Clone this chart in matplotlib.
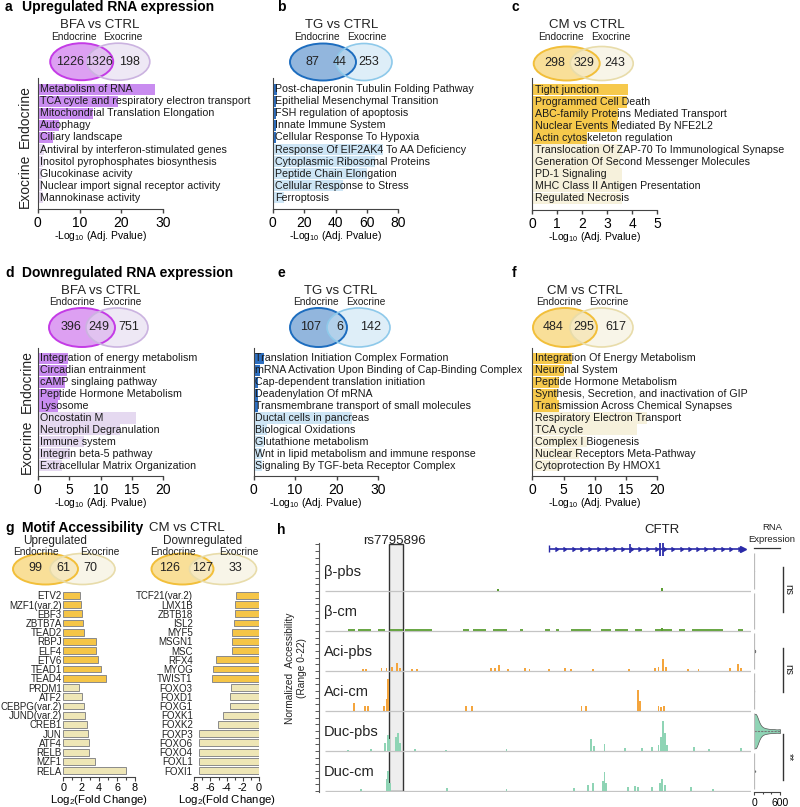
import matplotlib
matplotlib.use("Agg")
import matplotlib.pyplot as plt
from matplotlib.patches import Ellipse, Rectangle
import numpy as np

plt.rcParams['font.family'] = ['Liberation Sans', 'DejaVu Sans']
plt.rcParams['mathtext.fontset'] = 'custom'
plt.rcParams['mathtext.rm'] = 'Liberation Sans'
plt.rcParams['mathtext.it'] = 'Liberation Sans:italic'
plt.rcParams['mathtext.bf'] = 'Liberation Sans:bold'
plt.rcParams['axes.unicode_minus'] = False

# ---------------- datos ----------------
# Venn: endocrino, interseccion, exocrino
venn_a = [1226, 1326, 198]
venn_b = [87, 44, 253]
venn_c = [298, 329, 243]
venn_d = [396, 249, 751]
venn_e = [107, 6, 142]
venn_f = [484, 295, 617]
venn_g_up = [99, 61, 70]
venn_g_down = [126, 127, 33]

terms_a = ["Metabolism of RNA", "TCA cycle and respiratory electron transport",
           "Mitochondrial Translation Elongation", "Autophagy", "Ciliary landscape",
           "Antiviral by interferon-stimulated genes", "Inositol pyrophosphates biosynthesis",
           "Glucokinase acivity", "Nuclear import signal receptor activity", "Mannokinase activity"]
pval_a = [28.1, 19.2, 13.2, 5.1, 3.6, 1.5, 1.2, 1.0, 1.0, 1.3]

terms_b = ["Post-chaperonin Tubulin Folding Pathway", "Epithelial Mesenchymal Transition",
           "FSH regulation of apoptosis", "Innate Immune System", "Cellular Response To Hypoxia",
           "Response Of EIF2AK4 To AA Deficiency", "Cytoplasmic Ribosomal Proteins",
           "Peptide Chain Elongation", "Cellular Response to Stress", "Ferroptosis"]
pval_b = [2.6, 2.2, 2.0, 2.0, 1.8, 70.5, 65, 60, 45, 7]

terms_c = ["Tight junction", "Programmed Cell Death", "ABC-family Proteins Mediated Transport",
           "Nuclear Events Mediated By NFE2L2", "Actin cytoskeleton regulation",
           "Translocation Of ZAP-70 To Immunological Synapse",
           "Generation Of Second Messenger Molecules", "PD-1 Signaling",
           "MHC Class II Antigen Presentation", "Regulated Necrosis"]
pval_c = [3.84, 3.8, 3.43, 3.37, 2.17, 3.6, 3.5, 3.6, 3.6, 3.6]

terms_d = ["Integration of energy metabolism", "Circadian entrainment", "cAMP singlaing pathway",
           "Peptide Hormone Metabolism", "Lysosome", "Oncostatin M", "Neutrophil Degranulation",
           "Immune system", "Integrin beta-5 pathway", "Extracellular Matrix Organization"]
pval_d = [4.9, 4.6, 4.3, 3.6, 3.3, 15.6, 13.1, 7.3, 5.1, 3.8]

terms_e = ["Translation Initiation Complex Formation",
           "mRNA Activation Upon Binding of Cap-Binding Complex",
           "Cap-dependent translation initiation", "Deadenylation Of mRNA",
           "Transmembrane transport of small molecules", "Ductal cells in pancreas",
           "Biological Oxidations", "Glutathione metabolism",
           "Wnt in lipid metabolism and immune response", "Signaling By TGF-beta Receptor Complex"]
pval_e = [2.5, 1.6, 1.0, 1.0, 1.0, 23.7, 3.2, 2.5, 2.0, 2.0]

terms_f = ["Integration Of Energy Metabolism", "Neuronal System", "Peptide Hormone Metabolism",
           "Synthesis, Secretion, and inactivation of GIP", "Transmission Across Chemical Synapses",
           "Respiratory Electron Transport", "TCA cycle", "Complex I Biogenesis",
           "Nuclear Receptors Meta-Pathway", "Cytoprotection By HMOX1"]
pval_f = [6.3, 5.0, 4.2, 3.9, 4.2, 18.3, 16.7, 8.7, 7.4, 4.4]

up_genes = ['ETV2', 'MZF1(var.2)', 'EBF3', 'ZBTB7A', 'TEAD2', 'RBPJ', 'ELF4', 'ETV6', 'TEAD1',
            'TEAD4', 'PRDM1', 'ATF2', 'CEBPG(var.2)', 'JUND(var.2)', 'CREB1', 'JUN', 'ATF4',
            'RELB', 'MZF1', 'RELA']
up_fc = [1.86, 1.93, 2.05, 2.15, 2.34, 3.6, 3.64, 3.83, 4.16, 4.72,
         1.78, 2.05, 2.34, 2.45, 2.68, 2.71, 2.9, 2.9, 3.5, 7.0]
down_genes = ['TCF21(var.2)', 'LMX1B', 'ZBTB18', 'ISL2', 'MYF5', 'MSGN1', 'MSC', 'RFX4', 'MYOG',
              'TWIST1', 'FOXO3', 'FOXD1', 'FOXG1', 'FOXK1', 'FOXK2', 'FOXP3', 'FOXO6', 'FOXO4',
              'FOXL1', 'FOXI1']
down_fc = [-2.84, -2.92, -2.96, -3.08, -3.32, -3.32, -3.4, -5.32, -5.72, -5.8,
           -3.52, -3.56, -3.6, -4.4, -5.08, -7.48, -7.48, -7.48, -7.48, -7.48]

# pistas de accesibilidad (posicion en kb, altura 0-22)
pistas = ['β-pbs', 'β-cm', 'Aci-pbs', 'Aci-cm', 'Duc-pbs', 'Duc-cm']
b_pbs_pos = [173, 337]
b_pbs_h = [1.1, 1.4]
b_cm_pos = [337]
b_cm_h = [1.4]
b_cm_tramos = [(22.7, 29.5), (33, 46), (53, 60), (65, 78.4), (80, 107), (137.6, 144),
               (147.7, 161), (168, 181.5), (195, 198.4), (220, 225), (230.5, 234),
               (245.7, 266), (276, 286), (289.6, 303), (310, 316.6), (330, 347),
               (353.5, 360), (367, 398), (413, 418)]
aci_pbs_pos = [38, 41, 56.5, 61.5, 66.6, 71.7, 75, 87, 92, 166, 169.7, 174, 183, 200, 204.5,
               223.7, 239.6, 245.7, 267.6, 303.8, 330, 333.5, 338, 341, 363, 373.4, 405, 413, 416]
aci_pbs_h = [1.1, 1.1, 1.7, 1.7, 2.2, 4.4, 1.7, 1.1, 1.1, 1.7, 1.7, 3.3, 1.1, 1.7, 1.1,
             1.1, 1.7, 1.1, 1.1, 1.1, 1.7, 2.2, 6.6, 2.2, 1.1, 1.1, 1.7, 3.9, 1.7]
aci_cm_pos = [28.8, 39.6, 43, 59, 61.5, 63.2, 141, 147, 256.5, 261, 313, 315, 333.5, 336, 338.6]
aci_cm_h = [4.4, 2.7, 2.7, 2.7, 6.6, 17.6, 2.7, 2.7, 2.7, 2.7, 11.5, 5.5, 2.7, 2.2, 2.7]
duc_pbs_pos = [22.7, 46, 60, 62.6, 64, 70.7, 72.7, 75, 90, 120.7, 181.5, 266, 269, 279.5, 300,
               316.6, 326.7, 333.5, 336, 338, 339.6, 342, 369, 384, 416]
duc_pbs_h = [0.8, 1.1, 4.4, 8.8, 6.6, 7.7, 9.9, 4.4, 1.1, 0.8, 1.1, 6.6, 2.7, 3.9, 1.7,
             1.7, 2.2, 3.3, 7.7, 16.5, 9.9, 3.3, 2.2, 1.1, 1.7]
duc_cm_pos = [36, 61.5, 63.2, 65, 122, 181.5, 249, 262.6, 267.6, 277.8, 279.5, 281, 303, 310,
              313, 327, 335, 337, 340, 366, 388]
duc_cm_h = [1.1, 6.6, 11, 4.4, 1.7, 1.1, 1.7, 3.3, 4.4, 5.5, 10.5, 4.4, 2.2, 2.7, 2.2,
            2.2, 4.4, 6.6, 3.3, 2.2, 1.1]
snp_kb = (64.3, 78.3)
gen_kb = (224, 418)
exones_kb = [224, 305, 335, 337.7]

# expresion de ARN por grupo (para los violines)
rna = [[0, 1, 2, 3, 5], [0, 1, 2, 4], [0, 5, 10, 15, 20, 30], [0, 2, 4, 6],
       [0, 2, 5, 8, 12, 18, 25, 35, 50, 70, 100, 150, 220, 320, 450, 600], [0, 5, 10, 20, 30]]
signif = ['ns', 'ns', '**']

# ---------------- figura ----------------
W, H = 800, 807
fig = plt.figure(figsize=(8, 8.07), dpi=100)


def caja(x0, y0, x1, y1):
    ax = fig.add_axes([x0 / W, 1 - y1 / H, (x1 - x0) / W, (y1 - y0) / H])
    ax.patch.set_alpha(0)
    return ax


ov = caja(0, 0, W, H)
ov.set_xlim(0, W)
ov.set_ylim(H, 0)
ov.axis('off')

morado = ('#d88ff0', '#c43be6', '#e4d9ef', '#cbb3e0', '#c98cf0', '#e5d9f0')
azul = ('#7fa9d8', '#1d6dbf', '#c8e3f4', '#8ec9ea', '#2e6fc0', '#cde5f5')
amarillo = ('#f8da86', '#f2bf3a', '#f4efda', '#e8dcaa', '#f6c94c', '#f6f1dc')


def venn(cl, cr, cy, wl, wr, h, col, nums, nx, ny, fs=9):
    ov.add_patch(Ellipse((cl, cy), wl, h, facecolor=col[0], alpha=0.85, edgecolor='none'))
    ov.add_patch(Ellipse((cr, cy), wr, h, facecolor=col[2], alpha=0.6, edgecolor='none'))
    ov.add_patch(Ellipse((cl, cy), wl, h, facecolor='none', edgecolor=col[1], lw=1.4))
    ov.add_patch(Ellipse((cr, cy), wr, h, facecolor='none', edgecolor=col[3], lw=1.2))
    for x, n in zip(nx, nums):
        ov.text(x, ny, str(n), ha='center', va='center', fontsize=fs, color='#222')


def cabecera(tit, tx, ty, ex, xx, ly):
    ov.text(tx, ty, tit, ha='center', va='center', fontsize=9.5, color='#222')
    ov.text(ex, ly, 'Endocrine', ha='center', va='center', fontsize=7.3, color='#222')
    ov.text(xx, ly, 'Exocrine', ha='center', va='center', fontsize=7.3, color='#222')


def enriquecimiento(pos, terms, vals, col, xmax, step, pad, txt=0.022):
    ax = caja(*pos)
    y = np.arange(len(terms))
    colores = [col[4]] * 5 + [col[5]] * 5
    ax.barh(y, vals, height=0.94, color=colores, zorder=1)
    for yi, t in zip(y, terms):
        ax.text(txt, yi, t, transform=ax.get_yaxis_transform(), va='center', ha='left',
                fontsize=7.7, color='#1a1a1a', zorder=3)
    ax.set_xlim(0, xmax)
    ax.set_ylim(len(terms) - 0.5 + pad, -0.5 - pad)
    ax.set_xticks(np.arange(0, xmax + step / 2, step))
    ax.set_yticks([])
    for s in ['top', 'right']:
        ax.spines[s].set_visible(False)
    for s in ['left', 'bottom']:
        ax.spines[s].set_color('#444')
    ax.tick_params(axis='x', length=3, width=1, labelsize=10, pad=2, color='#444')
    ax.set_xlabel(r'-Log$_{10}$ (Adj. Pvalue)', fontsize=7.5, labelpad=-1)
    return ax


# titulos de paneles
ov.text(5, 7, 'a', fontsize=10, fontweight='bold', va='center')
ov.text(22, 7, 'Upregulated RNA expression', fontsize=10, fontweight='bold', va='center')
ov.text(277, 7, 'b', fontsize=10, fontweight='bold', va='center')
ov.text(512, 7, 'c', fontsize=10, fontweight='bold', va='center')
ov.text(5, 273, 'd', fontsize=10, fontweight='bold', va='center')
ov.text(22, 273, 'Downregulated RNA expression', fontsize=10, fontweight='bold', va='center')
ov.text(277, 273, 'e', fontsize=10, fontweight='bold', va='center')
ov.text(512, 273, 'f', fontsize=10, fontweight='bold', va='center')
ov.text(5, 528, 'g', fontsize=10, fontweight='bold', va='center')
ov.text(22, 528, 'Motif Accessibility', fontsize=10, fontweight='bold', va='center')
ov.text(187, 528, 'CM vs CTRL', fontsize=9.5, ha='center', va='center', color='#222')
ov.text(277, 530, 'h', fontsize=10, fontweight='bold', va='center')

# fila 1
cabecera('BFA vs CTRL', 100, 25, 73.7, 122.5, 36.7)
venn(81.7, 118.3, 61.7, 63, 63, 37, morado, venn_a, [70, 99, 130], 62)
cabecera('TG vs CTRL', 341.7, 25, 317, 366.7, 36.7)
venn(323, 364, 62, 66, 56, 37, azul, venn_b, [312.5, 340, 369], 62)
cabecera('CM vs CTRL', 586.7, 25, 561, 610.5, 36.7)
venn(566.7, 601.7, 63.5, 66, 63, 34, amarillo, venn_c, [554.5, 584.5, 615], 62.7)

enriquecimiento((37.7, 77.7, 163.3, 209.3), terms_a, pval_a, morado, 30, 10, 0.48)
enriquecimiento((272.7, 77.7, 398.3, 209.3), terms_b, pval_b, azul, 80, 20, 0.48)
enriquecimiento((532.3, 78, 657.3, 210), terms_c, pval_c, amarillo, 5, 1, 0.48)
ov.text(25, 116.5, 'Endocrine', rotation=90, fontsize=10, ha='center', va='center', color='#222')
ov.text(25, 181, 'Exocrine', rotation=90, fontsize=10, ha='center', va='center', color='#222')

# fila 2
cabecera('BFA vs CTRL', 100.8, 290.7, 72, 121.7, 302)
venn(82, 117, 327.5, 66, 62, 39, morado, venn_d, [71, 99, 129], 327)
cabecera('TG vs CTRL', 340.8, 290.7, 315.8, 365.8, 302)
venn(318.5, 358.5, 327.5, 57, 63, 39, azul, venn_e, [311, 340, 371], 327)
cabecera('CM vs CTRL', 585, 290.7, 559, 609, 302)
venn(565, 601.5, 327.5, 64, 63, 39, amarillo, venn_f, [553.5, 584, 615.5], 327)

enriquecimiento((37.7, 348, 163.3, 476), terms_d, pval_d, morado, 20, 5, 0.38)
enriquecimiento((253.5, 348, 378, 476), terms_e, pval_e, azul, 30, 10, 0.38, txt=0.015)
enriquecimiento((532.3, 348, 657.3, 476), terms_f, pval_f, amarillo, 20, 5, 0.38)
ov.text(26.7, 382, 'Endocrine', rotation=90, fontsize=10, ha='center', va='center', color='#222')
ov.text(26.7, 447, 'Exocrine', rotation=90, fontsize=10, ha='center', va='center', color='#222')

# panel g
ov.text(55, 541, 'Upregulated', fontsize=8.5, ha='center', va='center', color='#222')
ov.text(203, 541, 'Downregulated', fontsize=8.5, ha='center', va='center', color='#222')
cabecera_g = [(36, 99.7), (173, 239)]
for (ex, xx) in cabecera_g:
    ov.text(ex, 552, 'Endocrine', ha='center', va='center', fontsize=7.3, color='#222')
    ov.text(xx, 552, 'Exocrine', ha='center', va='center', fontsize=7.3, color='#222')
venn(45.5, 82.5, 569, 65, 65, 31, amarillo, venn_g_up, [35, 63, 90], 568)
venn(182.5, 223, 569, 62, 67, 31, amarillo, venn_g_down, [170, 203, 235], 568)


def motivos(pos, genes, fc, xlim, ticks):
    ax = caja(*pos)
    y = np.arange(len(genes))
    colores = ['#f5c547'] * 10 + ['#eee6b6'] * 10
    ax.barh(y, fc, height=0.74, color=colores, edgecolor='#8a8a8a', linewidth=0.7)
    ax.set_ylim(19 + 0.7, -0.79)
    ax.set_xlim(*xlim)
    ax.set_yticks(y)
    ax.set_yticklabels(genes, fontsize=7.0, color='#222')
    ax.tick_params(axis='y', length=0, pad=1.2)
    ax.set_xticks(ticks)
    ax.set_xticks(np.arange(xlim[0], xlim[1] + 0.5, 1), minor=True)
    ax.tick_params(axis='x', length=3, width=0.8, labelsize=7.8, pad=1, color='#444')
    ax.tick_params(axis='x', which='minor', length=2, width=0.8, color='#444')
    for s in ['top', 'right', 'left']:
        ax.spines[s].set_visible(False)
    ax.spines['bottom'].set_color('#444')
    ax.set_xlabel(r'Log$_2$(Fold Change)', fontsize=8.2, labelpad=0)
    return ax


motivos((63.3, 588, 135, 777), up_genes, up_fc, (0, 8), [0, 2, 4, 6, 8])
motivos((194.3, 588, 259, 777), down_genes, down_fc, (-8, 0), [-8, -6, -4, -2, 0])

# panel h: pistas
tr = caja(319, 543, 751, 792)
tr.set_xlim(-6, 426)
tr.set_ylim(-0.5, 136.4)
for s in ['top', 'right', 'bottom']:
    tr.spines[s].set_visible(False)
tr.spines['left'].set_color('#555')
tr.spines['left'].set_linewidth(0.8)
tr.set_xticks([])
tr.set_yticks(np.arange(0, 136, 22 / 6))
tr.set_yticklabels([])
tr.tick_params(axis='y', length=3, width=0.7, color='#555')

tr.add_patch(Rectangle((snp_kb[0], 0.1), snp_kb[1] - snp_kb[0], 135.7,
                       facecolor='#eeeeee', edgecolor='#333', lw=1.0, zorder=1))

datos_pistas = [(b_pbs_pos, b_pbs_h), (b_cm_pos, b_cm_h), (aci_pbs_pos, aci_pbs_h),
                (aci_cm_pos, aci_cm_h), (duc_pbs_pos, duc_pbs_h), (duc_cm_pos, duc_cm_h)]
col_pistas = ['#5b9e33', '#5b9e33', '#f4a53d', '#f4a53d', '#8fd4b5', '#8fd4b5']
for k, (nombre, (p, h)) in enumerate(zip(pistas, datos_pistas)):
    base = (5 - k) * 22
    tr.hlines(base, 0, 426, color='#c4c4c4', lw=0.9, zorder=2)
    tr.bar(p, h, width=1.8, bottom=base, color=col_pistas[k], zorder=3)
    tr.text(-1, base + 10.5, nombre, fontsize=10.5, va='center', ha='left', color='#222', zorder=4)
    if nombre == 'β-cm':
        for a, b in b_cm_tramos:
            tr.hlines(base + 0.3, a, b, color=col_pistas[k], lw=1.3, zorder=3)

# modelo del gen CFTR
yg = 133.2
tr.hlines(yg, gen_kb[0], gen_kb[1], color='#2a2aa8', lw=1.2, zorder=3)
flechas = np.arange(gen_kb[0] + 6, gen_kb[1] - 4, 8.3)
tr.plot(flechas, [yg] * len(flechas), ls='none', marker=9, ms=3.2, color='#2a2aa8', zorder=3)
tr.plot([gen_kb[1]], [yg], ls='none', marker='>', ms=4, color='#2a2aa8', zorder=3)
tr.vlines(exones_kb[0], yg - 2, yg + 2, color='#2a2aa8', lw=1, zorder=3)
tr.vlines(exones_kb[1], yg - 2.5, yg + 2.5, color='#2a2aa8', lw=1.2, zorder=3)
tr.vlines(exones_kb[2:], yg - 4, yg + 4, color='#2a2aa8', lw=1.3, zorder=3)

ov.text(394, 541, 'rs7795896', fontsize=9.5, ha='center', va='center', color='#222')
ov.text(661.7, 530, 'CFTR', fontsize=9.5, ha='center', va='center', color='#222')
ov.text(296, 668, 'Normalized  Accessibility\n(Range 0-22)', rotation=90, fontsize=7.3,
        ha='center', va='center', color='#222', linespacing=1.25)

# violines de expresion
vi = caja(754, 543, 780, 792)
vi.set_xlim(0, 600)
vi.set_ylim(-0.5, 136.4)
centros = [(5 - k) * 22 + 11 for k in range(6)]
anchos = [0.6, 0.6, 1.5, 0.6, 19, 1.2]
partes = vi.violinplot(rna, positions=centros, widths=anchos, orientation='horizontal',
                       showextrema=False, bw_method=0.35)
for k, cuerpo in enumerate(partes['bodies']):
    cuerpo.set_facecolor(col_pistas[k] if k >= 4 else '#888')
    cuerpo.set_edgecolor('#555')
    cuerpo.set_linewidth(0.5)
    cuerpo.set_alpha(1)
vi.hlines(centros[4], 0, max(rna[4]), color='#777', lw=0.8, linestyle=(0, (2, 1)))
for c in centros:
    vi.vlines(0, c - 10, c + 10, color='#bbbbbb', lw=0.9)
for s in ['top', 'right', 'left']:
    vi.spines[s].set_visible(False)
vi.spines['bottom'].set_color('#444')
vi.set_yticks([])
vi.set_xticks([0, 600])
vi.set_xticks([200, 400], minor=True)
vi.tick_params(axis='x', length=2.5, width=0.8, labelsize=7.5, pad=1.5, color='#444')
vi.tick_params(axis='x', which='minor', length=1.5, width=0.8, color='#444')

ov.text(772, 527, 'RNA', fontsize=6.8, ha='center', va='center', color='#222')
ov.text(772, 539.5, 'Expression', fontsize=6.8, ha='center', va='center', color='#222')
ov.plot([754, 780], [547.5, 547.5], color='#333', lw=0.9)
for (y0, y1), s in zip([(567, 612), (648, 692), (734, 780)], signif):
    ov.plot([783, 783], [y0, y1], color='#333', lw=1.0)
    ov.text(788.5, (y0 + y1) / 2, s, rotation=-90, fontsize=7.5, ha='center', va='center',
            color='#222')

fig.savefig('out.png', dpi=100)
